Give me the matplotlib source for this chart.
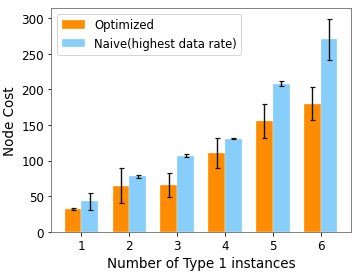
import matplotlib
matplotlib.use("Agg")
import matplotlib.pyplot as plt
import numpy as np

categories = [1, 2, 3, 4, 5, 6]
optimized = [32, 65, 66, 111, 156, 180]
optimized_err = [1, 24, 17, 21, 24, 23]
naive = [43, 78, 107, 131, 208, 270]
naive_err = [12, 2, 2, 1, 4, 29]

fig, ax = plt.subplots(figsize=(5.0, 3.79), dpi=72)
x = np.array(categories)
w = 0.35
ekw = dict(elinewidth=1.4, capthick=1.2, ecolor='#111111')
ax.bar(x - w/2, optimized, w, yerr=optimized_err, color='darkorange', capsize=2.5,
       edgecolor='white', linewidth=0.3, label='Optimized', error_kw=ekw)
ax.bar(x + w/2, naive, w, yerr=naive_err, color='lightskyblue', capsize=2.5,
       edgecolor='white', linewidth=0.3, label='Naive(highest data rate)', error_kw=ekw)
ax.set_xticks(x)
ax.set_xticklabels([str(c) for c in categories])
ax.set_yticks([0, 50, 100, 150, 200, 250, 300])
ax.tick_params(labelsize=12)
ax.set_xlabel('Number of Type 1 instances', fontsize=13.5)
ax.set_ylabel('Node Cost', fontsize=13.5)
for s in ax.spines.values():
    s.set_color('#666666')
ax.legend(loc='upper left', fontsize=11.6, handlelength=2)
fig.subplots_adjust(left=0.142, right=0.975, top=0.967, bottom=0.147)
fig.savefig('out.png', dpi=72)
